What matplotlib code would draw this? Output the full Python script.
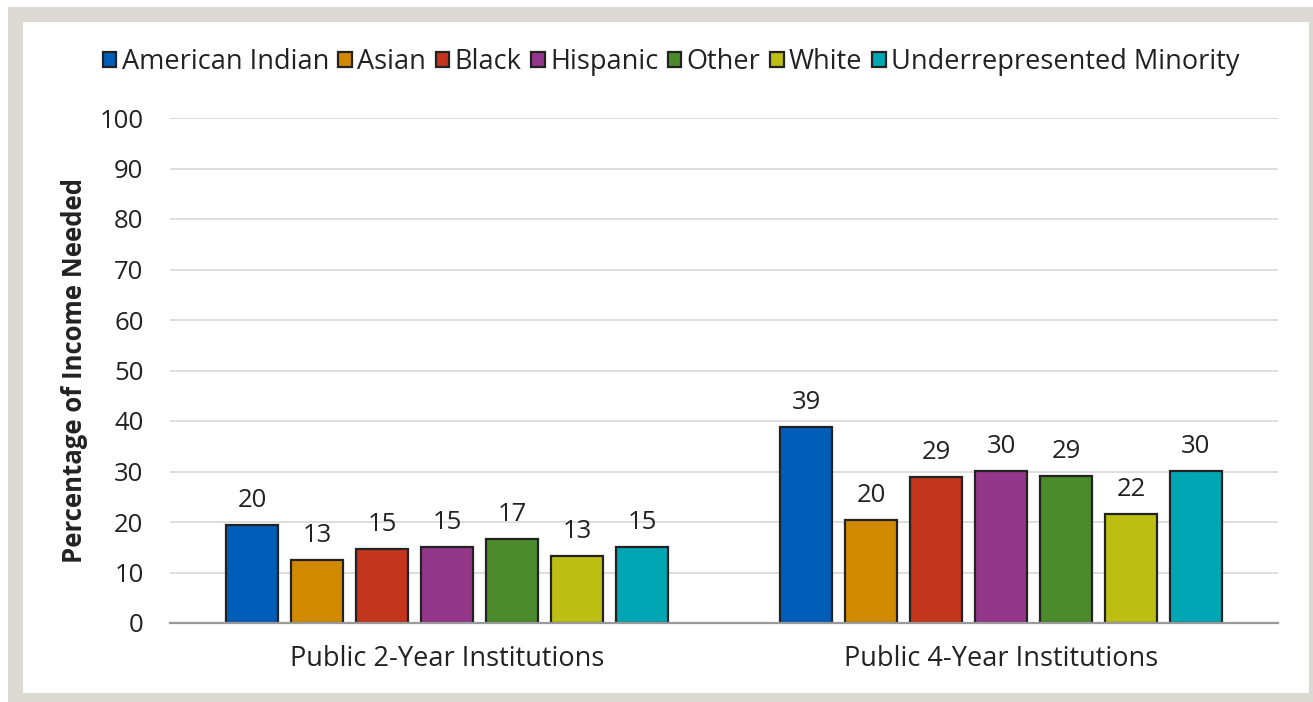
import numpy as np
import matplotlib
matplotlib.use("Agg")
import matplotlib.pyplot as plt
from matplotlib.patches import Rectangle

plt.rcParams["font.family"] = ["Open Sans", "DejaVu Sans"]

# ── data ──────────────────────────────────────────────────────────────────────
groups = ["Public 2-Year Institutions", "Public 4-Year Institutions"]
series = ["American Indian", "Asian", "Black", "Hispanic", "Other", "White",
          "Underrepresented Minority"]
# bar heights and the rounded data labels
values = {
    "American Indian":           [19.4, 38.8],
    "Asian":                     [12.5, 20.4],
    "Black":                     [14.6, 28.9],
    "Hispanic":                  [15.1, 30.1],
    "Other":                     [16.7, 29.1],
    "White":                     [13.3, 21.6],
    "Underrepresented Minority": [15.1, 30.1],
}
labels = {
    "American Indian":           [20, 39],
    "Asian":                     [13, 20],
    "Black":                     [15, 29],
    "Hispanic":                  [15, 30],
    "Other":                     [17, 29],
    "White":                     [13, 22],
    "Underrepresented Minority": [15, 30],
}
colors = ["#005EB8", "#D18A00", "#C4351D", "#94368A", "#4B8B2B", "#BDBE12", "#00A6B4"]

FS = 18.5

# ── figure ────────────────────────────────────────────────────────────────────
W, H = 1313, 702
fig = plt.figure(figsize=(W / 100, H / 100), dpi=100, facecolor="white")

# grey frame
frame = fig.add_axes([0, 0, 1, 1], zorder=-5)
frame.set_xlim(0, W); frame.set_ylim(H, 0); frame.axis("off")
frame.add_patch(Rectangle((8, 7), W - 8, H - 7, fc="#DCD8D4", ec="none"))
frame.add_patch(Rectangle((23, 22), 1309 - 23, 693 - 22, fc="white", ec="none"))

# plot area: x 170..1278, y 118..623 (pixels)
ax = fig.add_axes([170 / W, 1 - 623 / H, (1278 - 170) / W, (623 - 118) / H])
ax.set_facecolor("none")

x = np.arange(len(groups))
step, width = 0.1173, 0.094
for j, (name, c) in enumerate(zip(series, colors)):
    pos = x + (j - 3) * step
    bars = ax.bar(pos, values[name], width, color=c, edgecolor="#222222",
                  linewidth=1.6, label=name, zorder=3)
    for b, lab in zip(bars, labels[name]):
        ax.annotate(f"{lab}", (b.get_x() + b.get_width() / 2, b.get_height()),
                    xytext=(0, 13), textcoords="offset points",
                    ha="center", va="baseline", fontsize=FS, color="#222222")

ax.set_xlim(-0.5, 1.5)
ax.set_ylim(0, 100)
ax.set_yticks(range(0, 101, 10))
ax.yaxis.grid(True, color="#DDDDDD", linewidth=1.4, zorder=0)
ax.set_axisbelow(True)
for s in ("top", "right", "left"):
    ax.spines[s].set_visible(False)
ax.spines["bottom"].set_color("#999999")
ax.spines["bottom"].set_linewidth(1.6)
ax.spines["bottom"].set_zorder(4)
ax.tick_params(axis="both", length=0, labelsize=FS, colors="#222222")
ax.tick_params(axis="y", pad=19)
ax.tick_params(axis="x", labelsize=19.5, pad=16)
ax.set_xticks(x)
ax.set_xticklabels(groups)
ax.set_ylabel("Percentage of Income Needed", fontsize=18.5, fontweight="bold",
              color="#222222", labelpad=8)

leg = fig.legend(loc="center", bbox_to_anchor=(671 / W, 1 - 62 / H), ncol=7,
                 frameon=False, fontsize=19.5, handlelength=0.5, handleheight=0.5,
                 handletextpad=0.2, columnspacing=0.35, borderpad=0)
for t in leg.get_texts():
    t.set_color("#222222")

fig.savefig("out.png", dpi=100, facecolor="white")
